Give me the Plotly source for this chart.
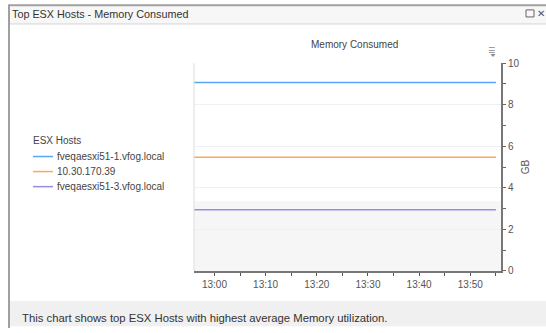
import plotly.graph_objects as go

# ---- data ----
hosts = ["fveqaesxi51-1.vfog.local", "10.30.170.39", "fveqaesxi51-3.vfog.local"]
colors = ["#55a8f5", "#f8aa58", "#9a8be0"]
times = ["2024-01-01 12:56", "2024-01-01 13:06", "2024-01-01 13:16",
         "2024-01-01 13:26", "2024-01-01 13:36", "2024-01-01 13:46",
         "2024-01-01 13:55"]
host1_gb = [9.07, 9.07, 9.07, 9.07, 9.07, 9.07, 9.07]
host2_gb = [5.47, 5.47, 5.47, 5.47, 5.47, 5.47, 5.47]
host3_gb = [2.95, 2.95, 2.95, 2.95, 2.95, 2.95, 2.95]
series = [host1_gb, host2_gb, host3_gb]
y_ticks = [0, 2, 4, 6, 8, 10]
x_range = ["2024-01-01 12:56", "2024-01-01 13:56"]
band_top = 3.35
legend_title = "ESX Hosts"

W, H = 546, 333
# empirical mapping of the photographed page (vertical)
Y_OFF, Y_SCALE = 5.1, 0.966

def px(x):
    return x / W

def py(y):
    yd = (y - Y_OFF) / Y_SCALE
    return 1 - yd / H

fig = go.Figure()
for name, vals, c in zip(hosts, series, colors):
    fig.add_trace(go.Scatter(x=times, y=vals, name=name, mode="lines",
                             line=dict(color=c, width=1.5), showlegend=False))

font_main = "Liberation Sans, Arial, sans-serif"

fig.update_layout(
    width=W, height=H, margin=dict(l=0, r=0, t=0, b=0),
    paper_bgcolor="white", plot_bgcolor="white",
    font=dict(family=font_main, size=10, color="#444"),
    xaxis=dict(domain=[px(194), px(501)], range=x_range, type="date",
               tickformat="%H:%M", dtick=600000, tick0="2024-01-01 13:00",
               ticks="outside", ticklen=3, tickcolor="#555",
               showline=True, linecolor="#777", linewidth=1.5,
               showgrid=False, zeroline=False,
               tickfont=dict(size=10, color="#555"),
               minor=dict(dtick=300000, ticks="outside", ticklen=3, tickcolor="#555")),
    yaxis=dict(domain=[py(270), py(63)], range=[0, 10], side="right",
               tickvals=y_ticks, ticks="outside", ticklen=3, tickcolor="#666",
               showline=True, linecolor="#777", linewidth=2,
               showgrid=True, gridcolor="#eef0f6", gridwidth=1,
               zeroline=False, tickfont=dict(size=10, color="#555"),
               title=dict(text="GB", font=dict(size=10, color="#555"), standoff=3),
               minor=dict(tickvals=[1, 3, 5, 7, 9], ticks="outside", ticklen=3, tickcolor="#666")),
)

# menu-icon triangle (paper coords)
tri_x = [px(490.5), px(495.5), px(493)]
tri_y = [py(54), py(54), py(57)]
tri_path = "M {} {} L {} {} L {} {} Z".format(tri_x[0], tri_y[0], tri_x[1], tri_y[1], tri_x[2], tri_y[2])

shapes = [
    dict(type="rect", xref="x domain", yref="y", x0=0, x1=1, y0=0, y1=band_top,
         fillcolor="#f6f6f6", line=dict(width=0), layer="below"),
    dict(type="line", xref="x domain", yref="y domain", x0=0, x1=0, y0=0, y1=1,
         line=dict(color="#dddddd", width=1)),
    dict(type="line", xref="paper", yref="paper", x0=px(8), x1=1, y0=0.999, y1=0.999,
         line=dict(color="#a0a0a0", width=2)),
    dict(type="line", xref="paper", yref="paper", x0=px(9), x1=px(9), y0=0, y1=1,
         line=dict(color="#a0a0a0", width=2)),
    dict(type="rect", xref="paper", yref="paper", x0=px(10), x1=1, y0=py(24), y1=0.995,
         fillcolor="#f7f7f7", line=dict(width=0), layer="below"),
    dict(type="line", xref="paper", yref="paper", x0=px(10), x1=1, y0=py(24), y1=py(24),
         line=dict(color="#d4d4d4", width=1)),
    dict(type="rect", xref="paper", yref="paper", x0=px(10), x1=1, y0=py(325), y1=py(300),
         fillcolor="#f0f0f0", line=dict(width=0), layer="below"),
    dict(type="rect", xref="paper", yref="paper", x0=px(526), x1=px(534), y0=py(17), y1=py(10),
         line=dict(color="#666", width=1)),
    dict(type="path", xref="paper", yref="paper", path=tri_path,
         fillcolor="#888", line=dict(width=0)),
]

annotations = [
    dict(text="Top ESX Hosts - Memory Consumed", x=px(10), y=py(14), xref="paper", yref="paper",
         xanchor="left", yanchor="middle", showarrow=False,
         font=dict(family="Liberation Sans, Arial", size=10.8, color="#333")),
    dict(text="✕", x=px(541), y=py(14), xref="paper", yref="paper",
         xanchor="center", yanchor="middle", showarrow=False,
         font=dict(size=10, color="#555")),
    dict(text="Memory Consumed", x=px(354), y=py(44), xref="paper", yref="paper",
         xanchor="center", yanchor="middle", showarrow=False,
         font=dict(size=10, color="#444")),
    dict(text="☰", x=px(491), y=py(50), xref="paper", yref="paper",
         xanchor="center", yanchor="middle", showarrow=False,
         font=dict(family="DejaVu Sans", size=8, color="#888")),
    dict(text="This chart shows top ESX Hosts with highest average Memory utilization.",
         x=px(20), y=py(317), xref="paper", yref="paper",
         xanchor="left", yanchor="middle", showarrow=False,
         font=dict(family="Liberation Sans, Arial", size=11.3, color="#333")),
    dict(text=legend_title, x=px(31), y=py(140), xref="paper", yref="paper",
         xanchor="left", yanchor="middle", showarrow=False,
         font=dict(size=10, color="#444")),
]

# legend entries (manual, compact spacing)
leg_y0, leg_step = 156, 15
for i, (name, c) in enumerate(zip(hosts, colors)):
    yy = leg_y0 + i * leg_step
    shapes.append(dict(type="line", xref="paper", yref="paper", x0=px(33), x1=px(53),
                       y0=py(yy), y1=py(yy), line=dict(color=c, width=1.5)))
    annotations.append(dict(text=name, x=px(55), y=py(yy), xref="paper", yref="paper",
                            xanchor="left", yanchor="middle", showarrow=False,
                            font=dict(size=10, color="#444")))

fig.update_layout(shapes=shapes, annotations=annotations)

fig.write_html("out.html", config={"displayModeBar": False},
               post_script="document.body.style.margin='0';document.body.style.overflow='hidden';")
